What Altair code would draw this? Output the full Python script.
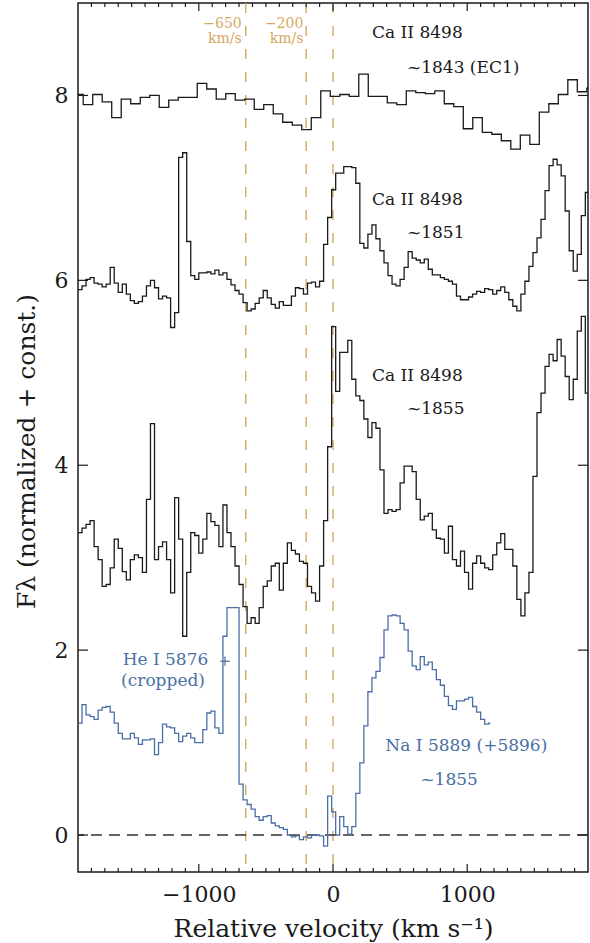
import altair as alt
import pandas as pd

# ---------------- data ----------------
VEL_DOMAIN = [-1900, 1900]
FLUX_DOMAIN = [-0.4, 9.0]

# Ca II 8498, ~1843 (EC1): coarse bins
ec1_start, ec1_step = -1932, 70.8
ec1_flux = [8.01, 7.90, 8.01, 7.93, 7.76, 7.96, 7.91, 7.98, 8.00, 7.87,
            7.95, 7.98, 7.98, 8.13, 8.07, 7.96, 8.02, 7.95, 7.96, 7.85,
            7.90, 7.80, 7.71, 7.68, 7.63, 7.76, 8.05, 7.99, 8.01, 7.99,
            8.23, 7.99, 7.99, 7.92, 7.90, 8.05, 8.03, 8.02, 8.05, 7.91,
            7.88, 7.64, 7.76, 7.60, 7.58, 7.51, 7.42, 7.57, 7.47, 7.82,
            7.91, 8.01, 8.17, 8.04, 8.08]

# Ca II 8498, ~1851
s1851_start, s1851_step = -1900, 30
s1851_flux = [5.90, 5.94, 6.01, 6.03, 5.97, 5.96, 5.93, 5.96, 6.14, 5.97,
              5.87, 5.96, 5.85, 5.78, 5.75, 5.77, 5.83, 5.94, 6.00, 5.92,
              5.80, 5.83, 5.81, 5.49, 5.65, 7.33, 7.38, 6.42, 6.05, 6.01,
              6.08, 6.08, 6.09, 6.07, 6.11, 6.06, 6.08, 6.01, 5.95, 5.89,
              5.85, 5.76, 5.67, 5.69, 5.75, 5.81, 5.89, 5.81, 5.74, 5.70,
              5.77, 5.73, 5.73, 5.83, 5.92, 5.91, 5.85, 5.97, 5.98, 5.93,
              5.99, 6.39, 6.68, 6.98, 7.16, 7.16, 7.23, 7.23, 7.22, 7.05,
              6.40, 6.35, 6.50, 6.60, 6.45, 6.32, 6.19, 6.05, 5.96, 5.94,
              6.01, 6.14, 6.31, 6.24, 6.22, 6.19, 6.23, 6.12, 6.06, 6.06,
              6.03, 6.01, 5.99, 5.96, 5.83, 5.79, 5.79, 5.82, 5.85, 5.88,
              5.87, 5.91, 5.90, 5.85, 5.89, 5.93, 5.87, 5.79, 5.72, 5.67,
              5.85, 5.99, 6.15, 6.30, 6.46, 6.66, 6.97, 7.24, 7.31, 7.25,
              7.13, 6.75, 6.32, 6.10, 6.28, 6.70, 6.95]

# Ca II 8498, ~1855
s1855_start, s1855_step = -1900, 30
s1855_flux = [3.27, 3.32, 3.36, 3.40, 3.12, 2.98, 2.69, 2.71, 2.89, 3.20,
              3.10, 2.85, 2.76, 2.98, 3.03, 3.00, 2.84, 3.63, 4.45, 2.98,
              3.12, 3.17, 2.98, 2.62, 3.65, 3.20, 2.15, 2.84, 3.27, 3.24,
              3.05, 3.20, 3.48, 3.39, 3.35, 3.12, 3.57, 3.27, 3.12, 2.91,
              2.71, 2.47, 2.29, 2.35, 2.29, 2.46, 2.69, 2.75, 2.91, 2.94,
              2.65, 2.94, 3.16, 3.08, 3.04, 2.96, 2.94, 2.69, 2.62, 2.53,
              2.91, 3.40, 4.20, 5.50, 4.80, 5.22, 5.22, 5.35, 4.93, 4.75,
              4.70, 4.50, 4.30, 4.46, 4.40, 3.95, 3.48, 3.52, 3.50, 3.52,
              3.81, 3.99, 3.99, 3.93, 3.63, 3.41, 3.45, 3.48, 3.30, 3.21,
              3.20, 3.05, 3.34, 2.98, 2.91, 3.07, 2.84, 2.66, 2.94, 3.02,
              2.94, 2.89, 2.87, 3.03, 3.16, 3.26, 3.09, 3.09, 2.91, 2.55,
              2.37, 2.62, 2.84, 3.88, 4.57, 4.78, 5.07, 5.20, 5.13, 5.36,
              5.18, 4.96, 4.71, 4.93, 5.45, 5.61, 4.78]

# Na I 5889 (+5896), ~1855
na_start, na_step, na_end = -1900, 30, 1172
na_flux = [1.21, 1.41, 1.30, 1.28, 1.25, 1.35, 1.38, 1.39, 1.33, 1.21,
           1.10, 1.04, 1.04, 1.10, 1.05, 0.98, 1.03, 1.03, 1.04, 0.87,
           1.00, 1.20, 1.17, 1.16, 1.10, 1.01, 1.07, 1.10, 1.05, 1.00,
           1.00, 1.14, 1.32, 1.34, 1.16, 1.10, 2.15, 2.46, 2.46, 2.46,
           0.55, 0.38, 0.33, 0.28, 0.20, 0.16, 0.20, 0.21, 0.13, 0.10,
           0.08, 0.06, 0.00, -0.02, -0.01, -0.05, -0.02, -0.03, 0.00, 0.00,
           -0.01, -0.12, 0.42, 0.25, 0.00, 0.20, 0.09, 0.01, 0.09, 0.45,
           0.78, 1.18, 1.55, 1.70, 1.77, 1.92, 2.22, 2.37, 2.38, 2.37,
           2.29, 2.22, 1.99, 1.83, 1.79, 1.93, 1.84, 1.87, 1.79, 1.68,
           1.62, 1.50, 1.40, 1.36, 1.45, 1.45, 1.47, 1.49, 1.39, 1.33,
           1.25, 1.20, 1.21]

marker_vel = [-650, -200, 0]

# annotations
cal_vel = [291, 551, 291, 551, 291, 551]
cal_flux = [8.68, 8.30, 6.87, 6.51, 4.97, 4.61]
cal_text = ["Ca II 8498", "~1843 (EC1)", "Ca II 8498", "~1851", "Ca II 8498", "~1855"]

he_vel = [-929, -954]
he_flux = [1.89, 1.67]
he_text = ["He I 5876", "(cropped)"]

na_lab_vel = [390, 651]
na_lab_flux = [0.96, 0.60]
na_lab_text = ["Na I 5889 (+5896)", "~1855"]

vlab_vel = [-680, -680, -221, -221]
vlab_flux = [8.77, 8.61, 8.77, 8.61]
vlab_text = ["\u2212650", "km/s", "\u2212200", "km/s"]

he_mark_h = [-840, -768]
he_mark_v = [1.83, 1.93]
he_mark_pos = -805
he_mark_level = 1.88

x_major = [-1000, 0, 1000]
x_minor = [v for v in range(-1800, 1900, 100) if v % 1000 != 0]
y_major = [0, 2, 4, 6, 8]

# ---------------- chart ----------------
W, H = 510, 869
FONT = "DejaVu Serif"
BLACK = "#1a1a1a"
BLUE = "#4a6fa5"
TAN = "#d6a862"


def steps(start, step, flux, end=None):
    xs = [start + step * i for i in range(len(flux))]
    ys = list(flux)
    xs.append(end if end is not None else start + step * len(flux))
    ys.append(flux[-1])
    return pd.DataFrame({"v": xs, "f": ys})


XS = alt.Scale(domain=VEL_DOMAIN, nice=False, zero=False)
YS = alt.Scale(domain=FLUX_DOMAIN, nice=False, zero=False)

X_AXIS = alt.Axis(values=x_major, format="d", tickSize=0, domain=False, grid=False,
                  labelFont=FONT, labelFontSize=22, labelColor=BLACK, labelPadding=12,
                  title="Relative velocity (km s\u207b\u00b9)", titleFont=FONT,
                  titleFontSize=25, titleFontWeight="normal", titleColor=BLACK,
                  titleY=64, titleBaseline="alphabetic")
Y_AXIS = alt.Axis(values=y_major, format="d", tickSize=0, domain=False, grid=False,
                  labelFont=FONT, labelFontSize=22, labelColor=BLACK, labelPadding=10,
                  title="F\u03bb (normalized + const.)", titleFont=FONT,
                  titleFontSize=25, titleFontWeight="normal", titleColor=BLACK,
                  titleX=-44, titleY=448, titleBaseline="alphabetic", titleAngle=270)


def X(field="v:Q"):
    return alt.X(field, scale=XS, axis=X_AXIS)


def Y(field="f:Q"):
    return alt.Y(field, scale=YS, axis=Y_AXIS)


base_zero = alt.Chart(pd.DataFrame({"f": [0]})).mark_rule(
    color="#333333", strokeDash=[11, 7], strokeWidth=1.3
).encode(y=Y())

vlines = alt.Chart(pd.DataFrame({"v": marker_vel})).mark_rule(
    color=TAN, strokeDash=[10, 13], strokeWidth=1.4
).encode(x=X())


def spec(df, color):
    return alt.Chart(df).mark_line(interpolate="step-after", clip=True,
                                   color=color, strokeWidth=1.3).encode(x=X(), y=Y())


l_ec1 = spec(steps(ec1_start, ec1_step, ec1_flux), BLACK)
l_1851 = spec(steps(s1851_start, s1851_step, s1851_flux), BLACK)
l_1855 = spec(steps(s1855_start, s1855_step, s1855_flux), BLACK)
l_na = spec(steps(na_start, na_step, na_flux, na_end), BLUE)


def texts(v, f, t, color, align, size):
    return alt.Chart(pd.DataFrame({"v": v, "f": f, "t": t})).mark_text(
        font=FONT, fontSize=size, color=color, align=align, baseline="middle"
    ).encode(x=X(), y=Y(), text="t:N")


t_cal = texts(cal_vel, cal_flux, cal_text, BLACK, "left", 17)
t_he = texts(he_vel, he_flux, he_text, BLUE, "right", 17)
t_na = texts(na_lab_vel, na_lab_flux, na_lab_text, BLUE, "left", 17)
t_vl = texts(vlab_vel, vlab_flux, vlab_text, TAN, "right", 14)

he_h = alt.Chart(pd.DataFrame({"v": [he_mark_h[0]], "v2": [he_mark_h[1]], "f": [he_mark_level]})).mark_rule(
    color=BLUE, strokeWidth=1.2).encode(x=X(), x2="v2:Q", y=Y())
he_v = alt.Chart(pd.DataFrame({"v": [he_mark_pos], "f": [he_mark_v[0]], "f2": [he_mark_v[1]]})).mark_rule(
    color=BLUE, strokeWidth=1.2).encode(x=X(), y=Y(), y2="f2:Q")


def xticks(vals, length):
    d = pd.DataFrame({"v": vals})
    bot = alt.Chart(d).mark_rule(color=BLACK, strokeWidth=1.2).encode(
        x=X(), y=alt.value(H), y2=alt.value(H - length))
    top = alt.Chart(d).mark_rule(color=BLACK, strokeWidth=1.2).encode(
        x=X(), y=alt.value(0), y2=alt.value(length))
    return [bot, top]


d_y = pd.DataFrame({"f": y_major})
yt_left = alt.Chart(d_y).mark_rule(color=BLACK, strokeWidth=1.2).encode(
    y=Y(), x=alt.value(0), x2=alt.value(10))
yt_right = alt.Chart(d_y).mark_rule(color=BLACK, strokeWidth=1.2).encode(
    y=Y(), x=alt.value(W), x2=alt.value(W - 10))

layers = [vlines, base_zero, l_ec1, l_1851, l_1855, l_na, t_cal, t_he, t_na, t_vl, he_h, he_v]
layers += xticks(x_minor, 4) + xticks(x_major, 8) + [yt_left, yt_right]

chart = alt.layer(*layers).properties(
    width=W, height=H,
    autosize=alt.AutoSizeParams(type="none"),
    padding={"left": 78, "top": 3, "right": 2, "bottom": 71},
    background="white",
).configure_view(stroke=BLACK, strokeWidth=1.5)

chart.save("out.html", embed_options={"renderer": "svg", "actions": False})
